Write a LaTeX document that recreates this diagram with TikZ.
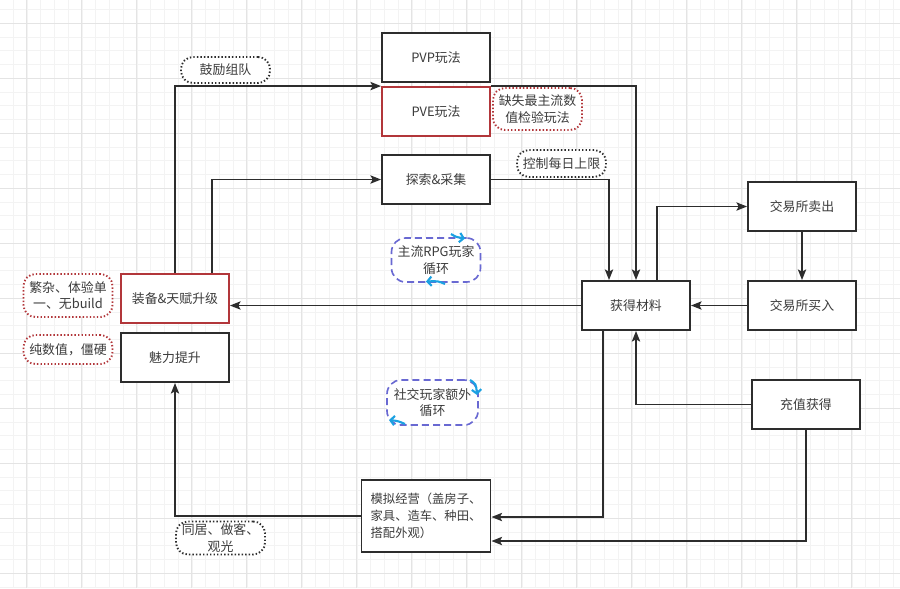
\documentclass[tikz,border=0pt]{standalone}
\usepackage{fontspec}
\setmainfont{Noto Sans CJK SC}
\usetikzlibrary{arrows.meta,positioning,calc}
\definecolor{LoopInk}{RGB}{45,45,45}
\definecolor{LoopText}{RGB}{60,60,60}
\definecolor{LoopRed}{RGB}{178,54,58}
\definecolor{LoopBlue}{RGB}{105,105,210}
\definecolor{LoopCyan}{RGB}{27,161,226}
\definecolor{LoopGridMinor}{RGB}{243,243,243}
\definecolor{LoopGridMajor}{RGB}{228,228,228}
\tikzset{
  loop/box/.style={
    draw=LoopInk,
    line width=1.6pt,
    fill=white,
    align=center,
    text=LoopText,
    minimum width=3.24cm,
    minimum height=1.47cm,
    inner sep=2pt,
    font=\fontsize{11pt}{14pt}\selectfont
  },
  loop/redbox/.style={loop/box, draw=LoopRed},
  loop/note/.style={
    draw=LoopInk,
    line width=1.6pt,
    dash pattern=on 1.2pt off 1.8pt,
    rounded corners=0.36cm,
    fill=white,
    align=center,
    text=LoopText,
    minimum width=2.67cm,
    inner sep=2pt,
    font=\fontsize{11pt}{14pt}\selectfont
  },
  loop/rednote/.style={loop/note, draw=LoopRed},
  loop/cycle/.style={
    loop/note,
    draw=LoopBlue,
    line width=1.4pt,
    dash pattern=on 6pt off 3.5pt,
    rounded corners=0.42cm
  },
  loop/arrow/.style={-{Stealth[length=9pt,width=7pt,inset=1.8pt]}, line width=1.6pt, draw=LoopInk},
  loop/mark/.style={-{Straight Barb[length=3.5pt,width=8pt]}, line width=1.8pt, draw=LoopCyan}
}

\begin{document}
\begin{tikzpicture}[x=0.03cm,y=-0.03cm]
  \useasboundingbox (0,0) rectangle (900,588);
  % background grid
  \foreach \i in {0,...,65} {
    \draw[LoopGridMinor, line width=0.4pt] ({13+13.75*\i},0) -- ({13+13.75*\i},588);
  }
  \foreach \i in {0,...,43} {
    \draw[LoopGridMinor, line width=0.4pt] (0,{9.3+13.75*\i}) -- (900,{9.3+13.75*\i});
  }
  \foreach \i in {0,...,16} {
    \draw[LoopGridMajor, line width=0.5pt] ({26.7+55*\i},0) -- ({26.7+55*\i},588);
  }
  \foreach \i in {0,...,10} {
    \draw[LoopGridMajor, line width=0.5pt] (0,{23+55*\i}) -- (900,{23+55*\i});
  }

  % boxes
  \node[loop/box] (pvp) at (436,57.5) {PVP玩法};
  \node[loop/redbox] (pve) at (436,111.5) {PVE玩法};
  \node[loop/box] (explore) at (436,179.5) {探索\&采集};
  \node[loop/box] (mat) at (636,305.5) {获得材料};
  \node[loop/box] (sell) at (802,206.5) {交易所卖出};
  \node[loop/box] (buy) at (802,305.5) {交易所买入};
  \node[loop/box] (pay) at (806,404.5) {充值获得};
  \node[loop/redbox] (equip) at (175,298.5) {装备\&天赋升级};
  \node[loop/box] (charm) at (175,357.5) {魅力提升};
  \node[loop/box, minimum width=3.87cm, minimum height=2.16cm, align=left,
        font=\fontsize{10.5pt}{14.5pt}\selectfont] (sim) at (426,516) {模拟经营（盖房子、\\家具、造车、种田、\\搭配外观）};

  % notes
  \node[loop/note, minimum height=0.78cm] (team) at (225.5,70) {鼓励组队};
  \node[loop/rednote, minimum height=1.26cm] (lack) at (537.5,109) {缺失最主流数\\值检验玩法};
  \node[loop/note, minimum height=0.81cm] (limit) at (561.5,163.5) {控制每日上限};
  \node[loop/rednote, minimum height=1.29cm] (messy) at (68,295.5) {繁杂、体验单\\一、无build};
  \node[loop/rednote, minimum height=0.87cm] (flat) at (68,349.5) {纯数值，僵硬};
  \node[loop/note, minimum height=0.9cm] (visit) at (220.5,538) {同居、做客、\\观光};
  \node[loop/cycle, minimum height=1.32cm] (rpg) at (436,260) {主流RPG玩家\\循环};
  \node[loop/cycle, minimum width=2.73cm, minimum height=1.35cm] (social) at (432.5,402.5) {社交玩家额外\\循环};

  % cycle marks
  \draw[loop/mark] (451,234) .. controls (456,237) .. (465,238.5);
  \draw[loop/mark] (445,284) .. controls (438,281) .. (426,281.5);
  \draw[loop/mark] (470,380) .. controls (476,384) .. (477,395);
  \draw[loop/mark] (405,424) .. controls (398,421) .. (389,420);

  % connectors
  \draw[loop/arrow] (equip.north) |- (pve.north west);
  \draw[loop/arrow] ($(equip.north)+(37,0)$) |- (explore.west);
  \draw[loop/arrow] (pve.north east) -| (mat.north);
  \draw[loop/arrow] (explore.east) -| ($(mat.north)+(-27,0)$);
  \draw[loop/arrow] ($(mat.north)+(21,0)$) |- (sell.west);
  \draw[loop/arrow] (sell.south) -- (buy.north);
  \draw[loop/arrow] (buy.west) -- (mat.east);
  \draw[loop/arrow] (mat.west) -- (mat.west -| equip.east);
  \draw[loop/arrow] (pay.west) -| (mat.south);
  \draw[loop/arrow] ($(mat.south)+(-33,0)$) |- ($(sim.east)+(0,1)$);
  \draw[loop/arrow] (pay.south) |- ($(sim.east)+(0,25)$);
  \draw[loop/arrow] (sim.west) -| (charm.south);
\end{tikzpicture}
\end{document}
